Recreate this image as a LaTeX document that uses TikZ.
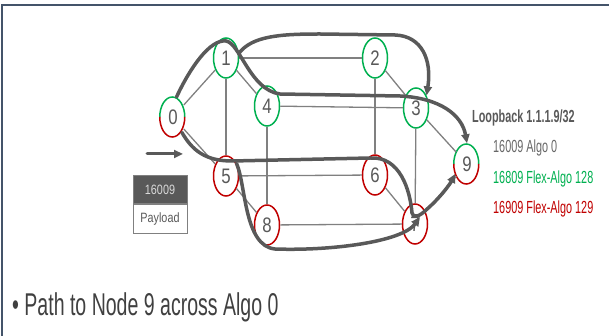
\documentclass[tikz,border=0pt]{standalone}
\usepackage{fontspec}
\setmainfont{Liberation Sans}[FakeStretch=0.62]
\newfontfamily\numfont{Liberation Sans}[FakeStretch=0.8]
\usepackage{tikz}
\usetikzlibrary{arrows.meta, positioning, shapes.geometric}
\definecolor{grn}{HTML}{00B050}
\definecolor{rd}{HTML}{C00000}
\definecolor{dgray}{HTML}{595959}
\definecolor{lgray}{HTML}{808080}
\definecolor{framec}{HTML}{44546A}

\begin{document}
\begin{tikzpicture}[x=1pt, y=-1pt,
  router/.style={ellipse, draw, fill=white, line width=1.5pt, minimum width=25pt,
                 minimum height=40pt, inner sep=0pt, text=dgray,
                 font=\numfont\fontsize{21}{21}\selectfont},
  grnrouter/.style={router, draw=grn},
  redrouter/.style={router, draw=rd},
  splitrouter/.style={router, draw=none},
  link/.style={draw=lgray, line width=1.3pt},
  route/.style={draw=dgray, line width=3.5pt, line cap=round,
                -{Triangle[length=9pt, width=8pt]}},
  label/.style={anchor=base west, inner sep=0pt, font=\fontsize{17.5}{18}\selectfont},
  stackbox/.style={minimum width=54pt, minimum height=28.5pt, inner sep=0pt, draw=lgray,
                   line width=0.8pt, font=\numfont\fontsize{13.5}{14}\selectfont}]
  \useasboundingbox (0,0) rectangle (609,336);
  \draw[framec, line width=2pt] (2,336) -- (2,5) -- (609,5);

  % routers
  \node[splitrouter] (r0) at (173,117) {0};
  \node[grnrouter]   (r1) at (226,58)  {1};
  \node[grnrouter]   (r2) at (375,58)  {2};
  \node[grnrouter]   (r3) at (416,108) {3};
  \node[grnrouter]   (r4) at (267,106) {4};
  \node[redrouter]   (r5) at (226,176) {5};
  \node[redrouter]   (r6) at (375,175) {6};
  \node[redrouter]   (r7) at (415,224) {7};
  \node[redrouter]   (r8) at (267,225) {8};
  \node[splitrouter] (r9) at (467,164) {9};
  \draw[grn, line width=1.5pt] (r0.west) arc[start angle=180, end angle=0, x radius=12.5pt, y radius=20pt];
  \draw[rd, line width=1.5pt] (r0.west) arc[start angle=180, end angle=360, x radius=12.5pt, y radius=20pt];
  \draw[grn, line width=1.5pt] (r9.west) arc[start angle=180, end angle=0, x radius=12.5pt, y radius=20pt];
  \draw[rd, line width=1.5pt] (r9.west) arc[start angle=180, end angle=360, x radius=12.5pt, y radius=20pt];

  % links
  \draw[link] (r0) -- (r1);
  \draw[link] (r0) -- (r5);
  \draw[link] (r1) -- (r2);
  \draw[link] (r1) -- (r4);
  \draw[link] (r1) -- (r5);
  \draw[link] (r4) -- (r3);
  \draw[link] (r4) -- (r8);
  \draw[link] (r2) -- (r3);
  \draw[link] (r2) -- (r6);
  \draw[link] (r3) -- (r7);
  \draw[link] (r3) -- (r9);
  \draw[link] (r5) -- (r6);
  \draw[link] (r5) -- (r8);
  \draw[link] (r6) -- (r7);
  \draw[link] (r8) -- (r7);
  \draw[link] (r7) -- (r9);

  % paths
  \draw[route] (r1.20) .. controls (252,36) and (280,34) .. (320,34) -- (395,35)
    .. controls (422,36) and (432,60) .. (r3.50);
  \draw[route] (r0.80) .. controls (190,68) and (210,39) .. (226,41)
    .. controls (240,43) and (250,90) .. (280,94) -- (400,96)
    .. controls (440,98) and (462,115) .. (r9.north);
  \draw[route] (r0.-60) .. controls (192,150) and (205,161) .. (232,161) -- (370,158)
    .. controls (400,156) and (410,190) .. (412,213)
    .. controls (413,219) and (420,216) .. (426,210)
    .. controls (440,198) and (450,184) .. (r9.-140);
  \draw[route] (r5.50) .. controls (246,185) and (244,246) .. (275,249)
    .. controls (330,251) and (402,242) .. ([shift={(5,-7)}]r7.center);

  % packet
  \coordinate (in0) at (147,154);
  \coordinate (in1) at (183,154);
  \draw[route, line width=3pt] (in0) -- (in1);
  \node[stackbox, fill=dgray, text=white!85!black] (sid) at (160,189.5) {16009};
  \node[stackbox, fill=white, text=dgray, below=0pt of sid] (pay) {Payload};

  % legend
  \node[label, text=dgray] (lb) at (472,123) {\bfseries Loopback 1.1.1.9/32};
  \node[label, text=lgray!80!black] (a0) at (493,153) {16009 Algo 0};
  \node[label, text=grn] (a128) at (493,184) {16809 Flex-Algo 128};
  \node[label, text=rd] (a129) at (493,214) {16909 Flex-Algo 129};

  \node[anchor=base west, inner sep=0pt, text=black!75, font=\fontsize{31.5}{32}\selectfont]
    (cap) at (12,315) {• Path to Node 9 across Algo 0};
\end{tikzpicture}
\end{document}
